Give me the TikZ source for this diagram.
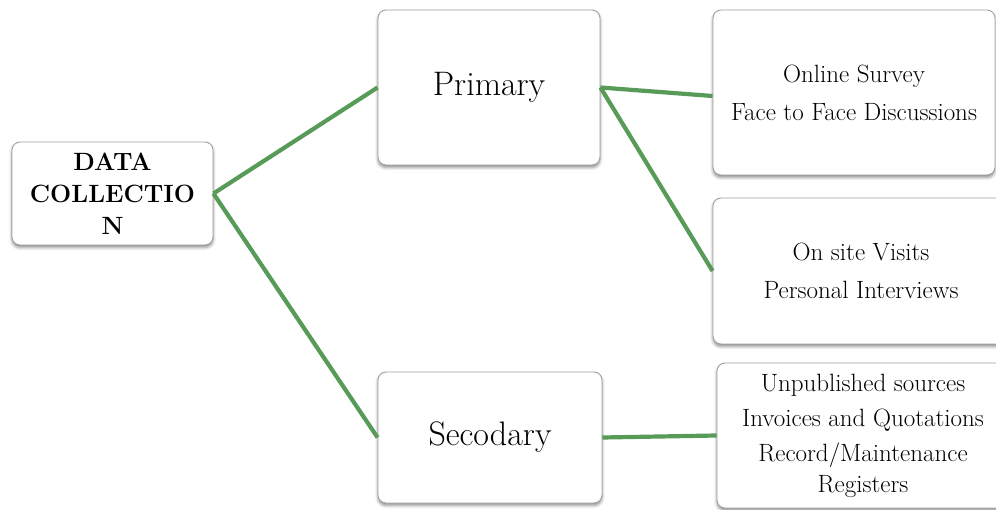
\documentclass[tikz,border=0pt]{standalone}
\usetikzlibrary{shadows.blur}
\definecolor{linkgreen}{RGB}{88,154,88}
\definecolor{boxline}{RGB}{160,160,160}
\begin{document}
\begin{tikzpicture}[x=1pt,y=-1pt,
  box/.style={draw=boxline, line width=0.9pt, rounded corners=8pt, fill=white,
    blur shadow={shadow xshift=0pt, shadow yshift=-2.5pt, shadow blur radius=3pt, shadow opacity=45},
    inner sep=0pt, align=center},
  big/.style={font=\fontsize{34}{40}\selectfont},
  small/.style={font=\fontsize{25}{38}\selectfont},
  link/.style={draw=linkgreen, line width=4.2pt}]
\useasboundingbox (0,0) rectangle (996,510);
\clip (0,0) rectangle (996,510);
\node[box, minimum width=201pt, minimum height=103pt, font=\fontsize{25}{32}\selectfont\bfseries] (data) at (112.5,193.5) {DATA\\COLLECTIO\\N};
\node[box, big, minimum width=222pt, minimum height=155pt] (prim) at (489,87.5) {Primary};
\node[box, big, minimum width=224pt, minimum height=131pt] (sec) at (490,437.5) {Secodary};
\node[box, small, minimum width=282pt, minimum height=165pt] (r1) at (854,92.5) {Online Survey\\Face to Face Discussions};
\node[box, small, minimum width=296pt, minimum height=146pt] (r2) at (861,271) {On site Visits\\Personal Interviews};
\node[box, font=\fontsize{25}{35}\selectfont, minimum width=292pt, minimum height=145pt] (r3) at (863,435.5) {Unpublished sources\\Invoices and Quotations\\Record/Maintenance\\[-4pt]Registers};
\draw[link] (data.east) -- (prim.west);
\draw[link] (data.east) -- (sec.west);
\draw[link] (prim.east) -- ([yshift=-3.5pt]r1.west);
\draw[link] (prim.east) -- (r2.west);
\draw[link] (sec.east) -- (r3.west);
\end{tikzpicture}
\end{document}
